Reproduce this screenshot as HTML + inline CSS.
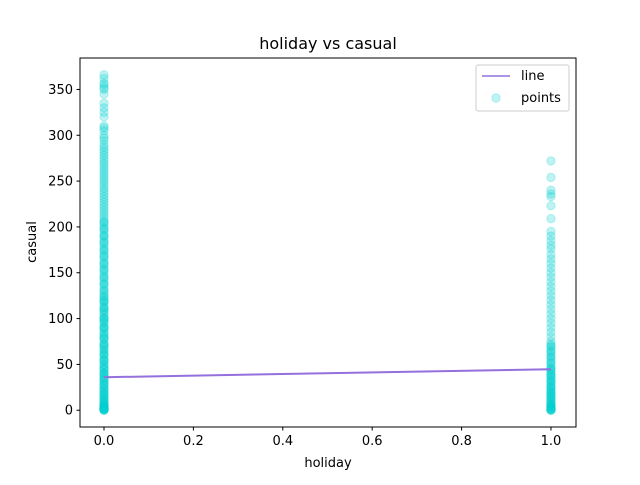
<!DOCTYPE html>
<html><head><meta charset="utf-8"><style>
body{margin:0;background:#fff;}
svg text{font-family:"DejaVu Sans","Liberation Sans",sans-serif;fill:#000;}
</style></head><body>
<svg id="chart" width="640" height="480" xmlns="http://www.w3.org/2000/svg">
<rect width="640" height="480" fill="#fff"/>
<text x="328" y="49" font-size="16" text-anchor="middle">holiday vs casual</text>
<g id="plot"></g>
<rect x="80" y="58" width="496" height="369" fill="none" stroke="#000" stroke-width="1"/>
<g id="axes"></g>
<text x="328" y="467" font-size="13" text-anchor="middle">holiday</text>
<text transform="translate(36,242) rotate(-90)" font-size="13" text-anchor="middle">casual</text>
<g>
<rect x="476" y="65" width="93" height="46" rx="2" fill="#fff" fill-opacity="0.8" stroke="#ccc"/>
<line x1="482" y1="76" x2="510" y2="76" stroke="#9370DB" stroke-width="1.5"/>
<text x="521" y="80" font-size="13">line</text>
<circle cx="496" cy="98" r="4.2" fill="#00CED1" fill-opacity="0.25" stroke="#00CED1" stroke-opacity="0.25"/>
<text x="521" y="102" font-size="13">points</text>
</g>
</svg>
<script>
const xTicks=[0.0,0.2,0.4,0.6,0.8,1.0];
const yTicks=[0,50,100,150,200,250,300,350];
const casualHoliday0=[366,362,357,355,352,350,345,335,330,325,320,310,308,305,300,297,294,290,287,284,281,278,275,272,269,266,263,260,257,254,251,248,245,242,239,236,233,230,227,224,221,218,215,212,209,206,203,200,197,194,191,188,185,182,179,176,173,170,167,164,161,158,155,152,149,146,143,140,137,134,131,128,125,122,119,116,113,110,107,104,101,98,95,92,89,86,83,80,77,74,71,68,65,62,59,56,53,50,47,44,41,38,35,32,29,26,23,20,17,14,11,8,5,3,2,1,0,
 205,198,190,183,175,168,160,153,145,138,130,124,118,112,106,100,96,90,84,78,72,66,60,55,50,45,40,36,32,28,24,20,16,12,9,6,4,2,1,0,
 120,110,100,90,80,70,62,54,46,40,34,28,22,18,14,10,7,5,3,2,1,0];
const casualHoliday1=[272,254,240,236,233,223,209,195,190,185,180,176,170,165,160,155,150,145,140,135,130,125,120,115,110,105,100,95,90,85,80,75,72,69,66,63,60,57,54,51,48,45,42,39,36,33,30,27,24,21,18,15,12,9,6,4,2,1,0,
 70,64,58,52,46,40,35,30,25,20,16,12,8,5,3,1,0,
 44,38,32,26,22,18,14,10,7,4,2,0];
const lineX=[0,1];
const lineY=[36,44.7];
const xMin=-0.0537,xMax=1.056,yMin=-18.3,yMax=384.3;
const L=80,R=576,T=58,B=427;
const sx=v=>L+(v-xMin)/(xMax-xMin)*(R-L);
const sy=v=>B-(v-yMin)/(yMax-yMin)*(B-T);
const NS="http://www.w3.org/2000/svg";
const plot=document.getElementById('plot'),axes=document.getElementById('axes');
function pts(x,arr){arr.forEach(v=>{const c=document.createElementNS(NS,'circle');


c.setAttribute('cx',sx(x));c.setAttribute('cy',sy(v));c.setAttribute('r',4.2);
c.setAttribute('fill','#00CED1');c.setAttribute('fill-opacity','0.25');
c.setAttribute('stroke','#00CED1');c.setAttribute('stroke-opacity','0.25');plot.appendChild(c);});}
pts(0,casualHoliday0);pts(1,casualHoliday1);
const ln=document.createElementNS(NS,'polyline');


ln.setAttribute('points',lineX.map((x,i)=>sx(x)+','+sy(lineY[i])).join(' '));
ln.setAttribute('fill','none');ln.setAttribute('stroke','#9370DB');ln.setAttribute('stroke-width','2');plot.appendChild(ln);
xTicks.forEach(t=>{const x=sx(t);
const l=document.createElementNS(NS,'line');


l.setAttribute('x1',x);l.setAttribute('x2',x);l.setAttribute('y1',B);l.setAttribute('y2',B+3.5);l.setAttribute('stroke','#000');axes.appendChild(l);
const s=document.createElementNS(NS,'text');


s.setAttribute('x',x);s.setAttribute('y',B+18);s.setAttribute('font-size','13');s.setAttribute('text-anchor','middle');s.textContent=t.toFixed(1);axes.appendChild(s);});
yTicks.forEach(t=>{const y=sy(t);
const l=document.createElementNS(NS,'line');


l.setAttribute('x1',L-3.5);l.setAttribute('x2',L);l.setAttribute('y1',y);l.setAttribute('y2',y);l.setAttribute('stroke','#000');axes.appendChild(l);
const s=document.createElementNS(NS,'text');


s.setAttribute('x',L-7);s.setAttribute('y',y+4.5);s.setAttribute('font-size','13');s.setAttribute('text-anchor','end');s.textContent=t;axes.appendChild(s);});
</script>
</body></html>
